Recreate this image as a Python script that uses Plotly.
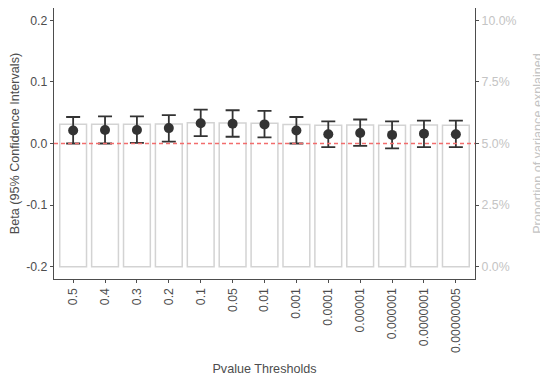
import plotly.graph_objects as go

thresholds = ["0.5", "0.4", "0.3", "0.2", "0.1", "0.05", "0.01", "0.001",
              "0.0001", "0.00001", "0.000001", "0.0000001", "0.00000005"]
beta = [0.021, 0.022, 0.022, 0.025, 0.033, 0.032, 0.031, 0.021, 0.015, 0.017, 0.014, 0.016, 0.015]
ci_upper = [0.043, 0.044, 0.044, 0.046, 0.055, 0.054, 0.053, 0.043, 0.036, 0.039, 0.036, 0.037, 0.037]
ci_lower = [0.000, 0.000, 0.001, 0.003, 0.012, 0.011, 0.010, 0.000, -0.006, -0.004, -0.008, -0.006, -0.006]
var_explained = [0.0578, 0.0578, 0.0578, 0.0579, 0.0584, 0.0583, 0.0582, 0.0577,
                 0.0574, 0.0575, 0.0574, 0.0575, 0.0574]
beta_ticks = [-0.2, -0.1, 0.0, 0.1, 0.2]
beta_ticktext = ["-0.2", "-0.1", "0.0", "0.1", "0.2"]
var_ticks = [0, 0.025, 0.05, 0.075, 0.10]

FONT = "Liberation Sans, Arial, sans-serif"
DARK = "#4d4d4d"
LIGHT = "#c4c4c4"
TICK_SIZE = 12.3
TITLE_SIZE = 12.6

fig = go.Figure()

fig.add_trace(go.Bar(
    x=thresholds, y=var_explained, yaxis="y2",
    marker=dict(color="white", line=dict(color="#d3d3d3", width=1.5)),
    width=0.84, showlegend=False, hoverinfo="skip",
))

fig.add_trace(go.Scatter(
    x=thresholds, y=beta, yaxis="y3", mode="markers",
    marker=dict(size=10, color="#333333"),
    error_y=dict(type="data", symmetric=False,
                 array=[u - b for u, b in zip(ci_upper, beta)],
                 arrayminus=[b - l for b, l in zip(beta, ci_lower)],
                 color="#333333", thickness=1.8, width=7),
    showlegend=False,
))

fig.add_shape(type="line", xref="paper", yref="y", x0=0, x1=1, y0=0, y1=0,
              line=dict(color="#f26d6d", width=1.4, dash="4px,3px"), layer="above")

fig.update_layout(
    width=540, height=370,
    margin=dict(l=46, r=73, t=0, b=99),
    paper_bgcolor="white", plot_bgcolor="white",
    font=dict(family=FONT, size=TICK_SIZE, color=DARK),
    xaxis=dict(
        type="category", range=[-0.6, 12.6], automargin=False,
        tickangle=-90, ticks="outside", ticklen=3, tickcolor=DARK,
        tickfont=dict(size=TICK_SIZE, color=DARK),
        showline=True, linecolor=DARK, linewidth=1.3, showgrid=False, zeroline=False,
        title=dict(text="Pvalue Thresholds", font=dict(size=TITLE_SIZE, color=DARK), standoff=12),
    ),
    yaxis=dict(
        range=[-0.22, 0.22], tickvals=beta_ticks, ticktext=beta_ticktext, automargin=False,
        ticks="outside", ticklen=3, tickcolor=DARK,
        tickfont=dict(size=TICK_SIZE, color=DARK),
        showline=True, linecolor=DARK, linewidth=1.3, showgrid=False, zeroline=False,
        title=dict(text="Beta (95% Confidence Intervals)", font=dict(size=TITLE_SIZE, color=DARK), standoff=5),
    ),
    yaxis2=dict(
        overlaying="y", side="right", range=[-0.005, 0.105], automargin=False,
        tickvals=var_ticks, tickformat=".1%",
        ticks="outside", ticklen=3, tickcolor=DARK,
        tickfont=dict(size=TICK_SIZE, color=LIGHT),
        showline=True, linecolor=DARK, linewidth=1.3, showgrid=False, zeroline=False,
        title=dict(text="Proportion of variance explained", font=dict(size=TITLE_SIZE, color=LIGHT), standoff=17),
    ),
    yaxis3=dict(
        overlaying="y", range=[-0.22, 0.22], visible=False,
    ),
)

fig.write_html("out.html")
